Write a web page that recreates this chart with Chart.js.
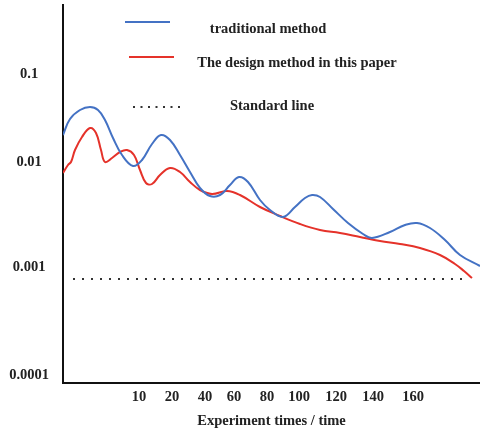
<!DOCTYPE html>
<html>
<head>
<meta charset="utf-8">
<script src="https://cdn.jsdelivr.net/npm/chart.js@4"></script>
<style>
  html, body { margin: 0; padding: 0; background: #fff; }
  #wrap { width: 480px; height: 428px; }
</style>
</head>
<body>
<div id="wrap"><canvas id="chart"></canvas></div>
<script>
// x positions are along the drawn axis (the original ticks are unevenly spaced)
// y values are levels on the drawn axis (the original decades are unevenly spaced)
const xTickPos = [7.6, 10.9, 14.2, 17.1, 20.4, 23.6, 27.3, 31.0, 35.0];
const xTickLabels = ["10", "20", "40", "60", "80", "100", "120", "140", "160"];
const yTickPos = [0.08, 1.16, 2.21, 3.09];
const yTickLabels = ["0.0001", "0.001", "0.01", "0.1"];

const traditionalX = [0, 0.7, 1.7, 2.7, 3.5, 4.2, 5.0, 5.9, 7.0, 7.9, 8.9, 9.8, 10.7, 11.7, 12.7, 13.7, 14.7, 15.7, 16.7, 17.6, 18.5, 19.7, 20.7, 22.0, 23.2, 24.2, 24.9, 25.7, 27.0, 28.5, 30.0, 30.9, 32.7, 34.2, 35.4, 36.7, 38.2, 39.7, 41.7];
const traditionalY = [2.48, 2.64, 2.73, 2.76, 2.73, 2.63, 2.45, 2.28, 2.17, 2.23, 2.39, 2.48, 2.43, 2.28, 2.11, 1.95, 1.87, 1.88, 1.98, 2.06, 2.01, 1.83, 1.73, 1.66, 1.76, 1.85, 1.88, 1.86, 1.74, 1.60, 1.49, 1.45, 1.51, 1.58, 1.60, 1.55, 1.43, 1.28, 1.17];

const designX = [0, 0.5, 0.8, 1.2, 1.9, 2.7, 3.3, 3.8, 4.2, 4.9, 5.7, 6.4, 7.1, 7.7, 8.3, 8.9, 9.7, 10.7, 11.7, 12.7, 13.7, 14.9, 16.4, 17.7, 19.7, 21.7, 23.7, 25.7, 27.7, 29.7, 31.7, 33.7, 35.7, 37.7, 39.2, 40.1, 40.9];
const designY = [2.10, 2.18, 2.21, 2.33, 2.46, 2.55, 2.50, 2.33, 2.21, 2.25, 2.31, 2.33, 2.28, 2.13, 2.00, 1.99, 2.08, 2.15, 2.11, 2.01, 1.93, 1.89, 1.92, 1.88, 1.76, 1.67, 1.59, 1.53, 1.50, 1.46, 1.42, 1.39, 1.35, 1.28, 1.19, 1.12, 1.05];

const standardX = [1.0, 40.0];
const standardY = [1.04, 1.04];

const FONT = { family: "'Liberation Serif', 'Times New Roman', serif", size: 14.5, weight: "bold", lineHeight: 1 };
const pts = (xs, ys) => xs.map((x, i) => ({ x: x, y: ys[i] }));

// legend drawn by hand: line sample left, label to its right, stacked as in the original
const legendBoxes = [
  { x1: 125, x2: 170, y: 22, tx: 268, ty: 29 },
  { x1: 129, x2: 174, y: 57, tx: 297, ty: 63 },
  { x1: 133, x2: 180, y: 107, tx: 272, ty: 106 },
];
const handLegend = {
  id: "handLegend",
  afterDraw(chart) {
    const ctx = chart.ctx;
    chart.data.datasets.forEach((ds, i) => {
      const b = legendBoxes[i];
      ctx.save();
      ctx.strokeStyle = ds.borderColor;
      ctx.lineWidth = 2;
      if (ds.borderDash) ctx.setLineDash([2, 5.5]);
      ctx.beginPath();
      ctx.moveTo(b.x1, b.y);
      ctx.lineTo(b.x2, b.y);
      ctx.stroke();
      ctx.setLineDash([]);
      ctx.fillStyle = "#222";
      ctx.font = "bold 14.5px 'Liberation Serif', 'Times New Roman', serif";
      ctx.textAlign = "center";
      ctx.textBaseline = "middle";
      ctx.fillText(ds.label, b.tx, b.ty);
      ctx.restore();
    });
  },
};

new Chart(document.getElementById("chart"), {
  type: "line",
  data: {
    datasets: [
      { label: "traditional method", data: pts(traditionalX, traditionalY),
        borderColor: "#4472c4", borderWidth: 2, pointRadius: 0, tension: 0.4, fill: false },
      { label: "The design method in this paper", data: pts(designX, designY),
        borderColor: "#e5322a", borderWidth: 2, pointRadius: 0, tension: 0.4, fill: false },
      { label: "Standard line", data: pts(standardX, standardY),
        borderColor: "#333", borderWidth: 2, borderDash: [2, 7], pointRadius: 0, fill: false },
    ],
  },
  options: {
    responsive: true,
    maintainAspectRatio: false,
    animation: false,
    layout: { padding: { top: 5, right: 0, bottom: 0, left: 0 } },
    plugins: { legend: { display: false }, tooltip: { enabled: false } },
    scales: {
      x: {
        type: "linear", min: 0, max: 41.7,
        grid: { display: false, drawTicks: false },
        border: { display: true, color: "#111", width: 2 },
        afterBuildTicks: (s) => { s.ticks = xTickPos.map((v) => ({ value: v })); },
        afterFit: (s) => { s.height = 45; s.paddingLeft = 0; s.paddingRight = 0; },
        ticks: {
          color: "#222", font: FONT, padding: 7, autoSkip: false, maxRotation: 0,
          callback: (v, i) => xTickLabels[i],
        },
        title: { display: true, text: "Experiment times / time", color: "#222", font: FONT, padding: { top: 0, bottom: 0 } },
      },
      y: {
        type: "linear", min: 0, max: 3.78,
        grid: { display: false, drawTicks: false },
        border: { display: true, color: "#111", width: 2 },
        afterBuildTicks: (s) => { s.ticks = yTickPos.map((v) => ({ value: v })); },
        afterFit: (s) => { s.width = 63; s.paddingTop = 0; s.paddingBottom = 0; },
        ticks: {
          color: "#222", font: FONT, padding: 14, crossAlign: "center", autoSkip: false,
          callback: (v, i) => yTickLabels[i],
        },
      },
    },
  },
  plugins: [handLegend],
});
</script>
</body>
</html>
